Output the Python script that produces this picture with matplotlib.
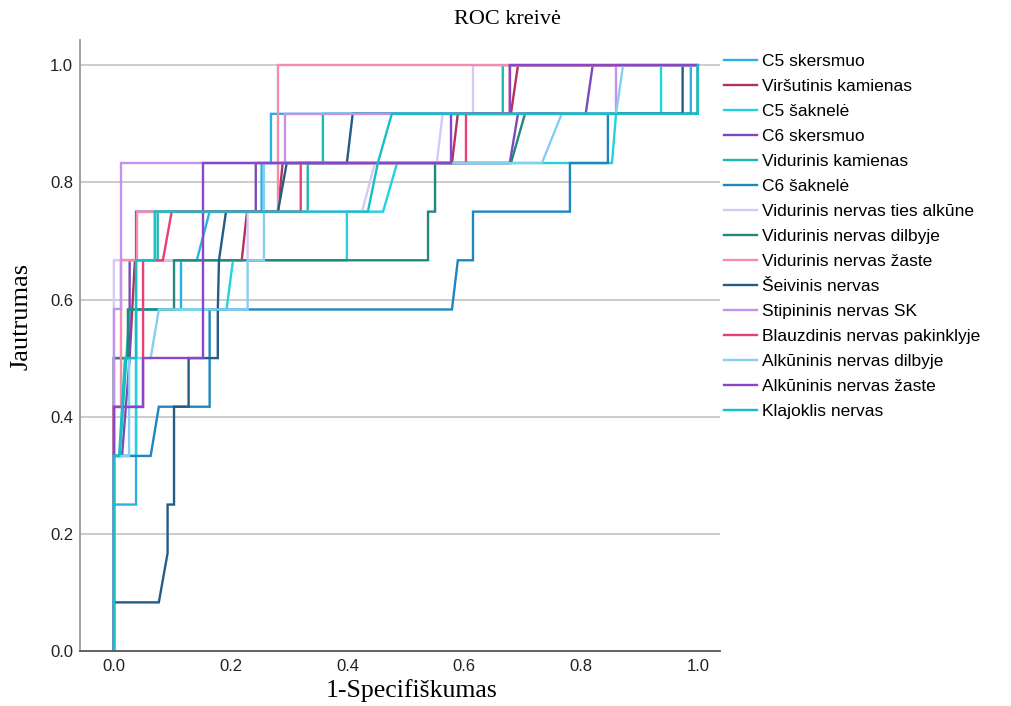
import matplotlib
matplotlib.use("Agg")
import matplotlib.pyplot as plt

labels = ["C5 skersmuo", "Viršutinis kamienas", "C5 šaknelė", "C6 skersmuo",
          "Vidurinis kamienas", "C6 šaknelė", "Vidurinis nervas ties alkūne",
          "Vidurinis nervas dilbyje", "Vidurinis nervas žaste", "Šeivinis nervas",
          "Stipininis nervas SK", "Blauzdinis nervas pakinklyje",
          "Alkūninis nervas dilbyje", "Alkūninis nervas žaste", "Klajoklis nervas"]

colors = ["#27B2E4", "#B3305F", "#22D3DE", "#7C4AB8", "#1ABAB0", "#1F86BF",
          "#D8C8F5", "#22887F", "#F58CAA", "#245C86", "#C591EE", "#E8406F",
          "#86CFF0", "#8946C9", "#14C0C8"]

# (1-specificity, sensitivity) points of each ROC curve
fpr_c5_skersmuo = [0, 0, 0.038, 0.038, 0.115, 0.115, 0.142, 0.164, 0.253, 0.253, 0.269, 0.269, 0.988, 0.988, 1.0]
tpr_c5_skersmuo = [0, 0.25, 0.25, 0.583, 0.583, 0.667, 0.667, 0.75, 0.75, 0.833, 0.833, 0.917, 0.917, 1.0, 1.0]

fpr_virsutinis = [0, 0, 0.027, 0.036, 0.219, 0.228, 0.281, 0.289, 0.579, 0.589, 0.680, 0.692, 1.0]
tpr_virsutinis = [0, 0.5, 0.5, 0.667, 0.667, 0.75, 0.75, 0.833, 0.833, 0.917, 0.917, 1.0, 1.0]

fpr_c5_saknele = [0, 0, 0.038, 0.038, 0.193, 0.204, 0.399, 0.399, 0.461, 0.485, 0.853, 0.860, 0.937, 0.937, 1.0]
tpr_c5_saknele = [0, 0.333, 0.333, 0.583, 0.583, 0.667, 0.667, 0.75, 0.75, 0.833, 0.833, 0.917, 0.917, 1.0, 1.0]

fpr_c6_skersmuo = [0, 0, 0.014, 0.027, 0.027, 0.038, 0.038, 0.243, 0.243, 0.678, 0.692, 0.808, 0.820, 1.0]
tpr_c6_skersmuo = [0, 0.333, 0.333, 0.5, 0.667, 0.667, 0.75, 0.75, 0.833, 0.833, 0.917, 0.917, 1.0, 1.0]

fpr_vid_kamienas = [0, 0, 0.010, 0.027, 0.038, 0.038, 0.075, 0.075, 0.332, 0.332, 0.358, 0.358, 0.666, 0.666, 1.0]
tpr_vid_kamienas = [0, 0.333, 0.333, 0.583, 0.583, 0.667, 0.667, 0.75, 0.75, 0.833, 0.833, 0.917, 0.917, 1.0, 1.0]

fpr_c6_saknele = [0, 0, 0.063, 0.077, 0.164, 0.164, 0.579, 0.589, 0.615, 0.615, 0.781, 0.781, 0.846, 0.846, 1.0, 1.0]
tpr_c6_saknele = [0, 0.333, 0.333, 0.417, 0.417, 0.583, 0.583, 0.667, 0.667, 0.75, 0.75, 0.833, 0.833, 0.917, 0.917, 1.0]

fpr_vid_alkune = [0, 0, 0.229, 0.229, 0.425, 0.447, 0.553, 0.563, 0.615, 0.615, 1.0]
tpr_vid_alkune = [0, 0.667, 0.667, 0.75, 0.75, 0.833, 0.833, 0.917, 0.917, 1.0, 1.0]

fpr_vid_dilbyje = [0, 0, 0.024, 0.024, 0.103, 0.103, 0.538, 0.538, 0.550, 0.550, 0.680, 0.704, 1.0, 1.0]
tpr_vid_dilbyje = [0, 0.5, 0.5, 0.583, 0.583, 0.667, 0.667, 0.75, 0.75, 0.833, 0.833, 0.917, 0.917, 1.0]

fpr_vid_zaste = [0, 0, 0.012, 0.012, 0.039, 0.039, 0.281, 0.281, 1.0]
tpr_vid_zaste = [0, 0.417, 0.417, 0.667, 0.667, 0.75, 0.75, 1.0, 1.0]

fpr_seivinis = [0, 0, 0.077, 0.092, 0.092, 0.103, 0.103, 0.128, 0.128, 0.178, 0.178, 0.180, 0.192, 0.281, 0.296, 0.399, 0.409, 0.974, 0.974, 1.0]
tpr_seivinis = [0, 0.083, 0.083, 0.167, 0.25, 0.25, 0.417, 0.417, 0.5, 0.5, 0.583, 0.667, 0.75, 0.75, 0.833, 0.833, 0.917, 0.917, 1.0, 1.0]

fpr_stipininis = [0, 0, 0.012, 0.012, 0.293, 0.293, 0.860, 0.860, 1.0]
tpr_stipininis = [0, 0.583, 0.583, 0.833, 0.833, 0.917, 0.917, 1.0, 1.0]

fpr_blauzdinis = [0, 0, 0.050, 0.050, 0.084, 0.099, 0.320, 0.320, 0.603, 0.603, 0.678, 0.678, 1.0]
tpr_blauzdinis = [0, 0.417, 0.417, 0.667, 0.667, 0.75, 0.75, 0.833, 0.833, 0.917, 0.917, 1.0, 1.0]

fpr_alk_dilbyje = [0, 0, 0.026, 0.026, 0.063, 0.077, 0.229, 0.229, 0.257, 0.257, 0.733, 0.767, 0.860, 0.872, 1.0]
tpr_alk_dilbyje = [0, 0.333, 0.333, 0.5, 0.5, 0.583, 0.583, 0.667, 0.667, 0.833, 0.833, 0.917, 0.917, 1.0, 1.0]

fpr_alk_zaste = [0, 0, 0.050, 0.050, 0.152, 0.152, 0.577, 0.577, 0.678, 0.678, 1.0]
tpr_alk_zaste = [0, 0.417, 0.417, 0.5, 0.5, 0.833, 0.833, 0.917, 0.917, 1.0, 1.0]

fpr_klajoklis = [0, 0, 0.009, 0.019, 0.038, 0.038, 0.070, 0.070, 0.435, 0.452, 0.476, 1.0, 1.0]
tpr_klajoklis = [0, 0.333, 0.333, 0.5, 0.5, 0.667, 0.667, 0.75, 0.75, 0.833, 0.917, 0.917, 1.0]

fprs = [fpr_c5_skersmuo, fpr_virsutinis, fpr_c5_saknele, fpr_c6_skersmuo, fpr_vid_kamienas,
        fpr_c6_saknele, fpr_vid_alkune, fpr_vid_dilbyje, fpr_vid_zaste, fpr_seivinis,
        fpr_stipininis, fpr_blauzdinis, fpr_alk_dilbyje, fpr_alk_zaste, fpr_klajoklis]
tprs = [tpr_c5_skersmuo, tpr_virsutinis, tpr_c5_saknele, tpr_c6_skersmuo, tpr_vid_kamienas,
        tpr_c6_saknele, tpr_vid_alkune, tpr_vid_dilbyje, tpr_vid_zaste, tpr_seivinis,
        tpr_stipininis, tpr_blauzdinis, tpr_alk_dilbyje, tpr_alk_zaste, tpr_klajoklis]

x_ticks = [0.0, 0.2, 0.4, 0.6, 0.8, 1.0]
y_ticks = [0.0, 0.2, 0.4, 0.6, 0.8, 1.0]

fig = plt.figure(figsize=(10.12, 7.06), dpi=100)
ax = fig.add_axes([80 / 1012, 1 - 651 / 706, 640 / 1012, 611 / 706])

for yv in y_ticks[1:]:
    ax.axhline(yv, color="#C8C8C8", lw=1.3, zorder=0)

for f, t, c, lab in zip(fprs, tprs, colors, labels):
    ax.plot(f, t, color=c, lw=1.7, label=lab, solid_joinstyle="miter")

ax.set_xlim(-0.058, 1.038)
ax.set_ylim(0, 1.043)
ax.set_xticks(x_ticks)
ax.set_yticks(y_ticks)
ax.set_xticklabels([f"{v:.1f}" for v in x_ticks], fontfamily="Liberation Sans", fontsize=12, color="#222222")
ax.set_yticklabels([f"{v:.1f}" for v in y_ticks], fontfamily="Liberation Sans", fontsize=12, color="#222222")
ax.tick_params(axis="x", length=0, pad=6)
ax.tick_params(axis="y", length=0, pad=5)
for s in ["top", "right"]:
    ax.spines[s].set_visible(False)
ax.spines["left"].set_color("#999999")
ax.spines["bottom"].set_color("#555555")
ax.spines["left"].set_linewidth(1.3)
ax.spines["bottom"].set_linewidth(1.3)

fig.text(507 / 1012, 1 - 19 / 706, "ROC kreivė", ha="center", va="center",
         fontfamily="Liberation Serif", fontsize=16)
fig.text(412 / 1012, 1 - 691 / 706, "1-Specifiškumas", ha="center", va="center",
         fontfamily="Liberation Serif", fontsize=18.5)
fig.text(22 / 1012, 1 - 316 / 706, "Jautrumas", ha="center", va="center", rotation=90,
         fontfamily="Liberation Serif", fontsize=19)

leg = fig.legend(loc="upper left", bbox_to_anchor=(724 / 1012, 1 - 54 / 706), frameon=False,
                 prop={"family": "Liberation Sans", "size": 12.5}, handlelength=1.9,
                 handletextpad=0.28, labelspacing=0.565, borderaxespad=0, borderpad=0)

fig.savefig("out.png", dpi=100)
